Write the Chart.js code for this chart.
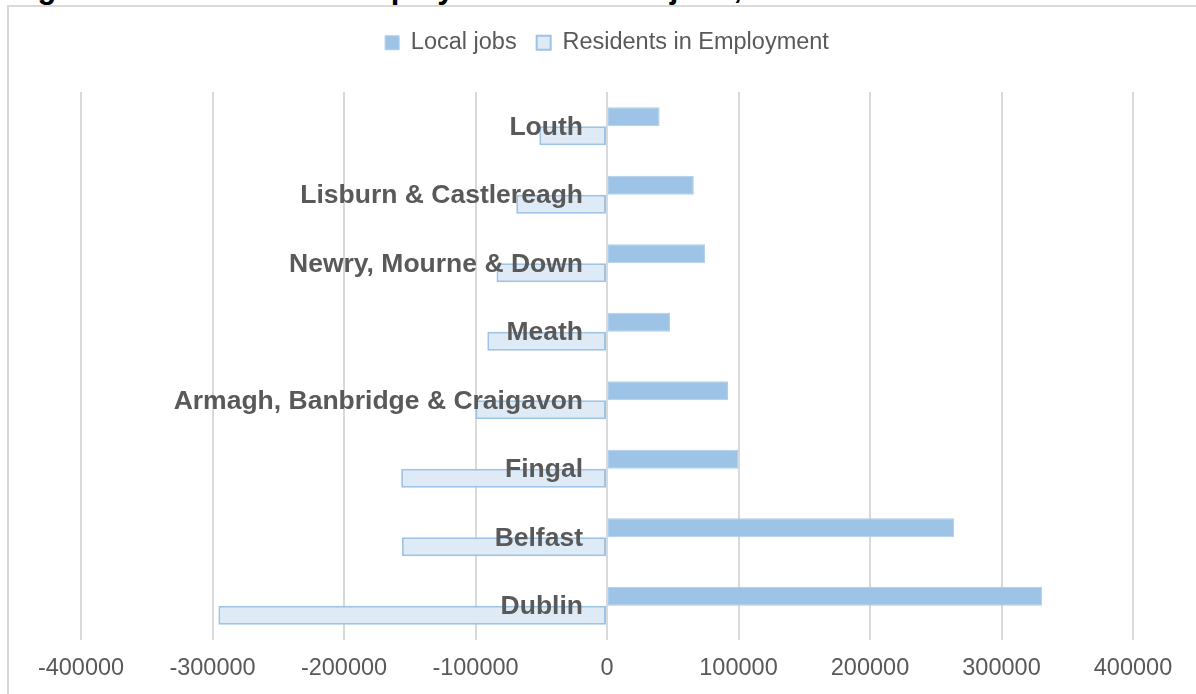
<!DOCTYPE html>
<html>
<head>
<meta charset="utf-8">
<script src="https://cdn.jsdelivr.net/npm/chart.js@4/dist/chart.umd.min.js"></script>
<style>
  html, body { margin: 0; padding: 0; background: #fff; }
  #wrap { position: relative; width: 1196px; height: 694px; overflow: hidden; }
  #frame { position: absolute; left: 7px; top: 5px; width: 1300px; height: 800px;
           border-left: 2px solid #D9D9D9; border-top: 2px solid #D9D9D9; box-sizing: border-box; }
  #title { position: absolute; left: 10px; top: -27px; font: bold 31px/30px "Liberation Sans", Arial, sans-serif;
           color: #000; white-space: nowrap; }
  canvas { position: absolute; left: 0; top: 0; }
</style>
</head>
<body>
<div id="wrap">
  <div id="frame"></div>
  <div id="title">Figure 4: Residents in Employment vs Local jobs, 2016</div>
  <canvas id="c" width="1196" height="694"></canvas>
</div>
<script>
const categories = ['Louth', 'Lisburn & Castlereagh', 'Newry, Mourne & Down', 'Meath',
                    'Armagh, Banbridge & Craigavon', 'Fingal', 'Belfast', 'Dublin'];
const localJobs = [40000, 66000, 74500, 48000, 92000, 99700, 264000, 331000];
const residentsInEmployment = [-51500, -69000, -84000, -91000, -100000, -156500, -156000, -295500];
const seriesNames = ['Local jobs', 'Residents in Employment'];
const xTicksMin = -400000, xTicksMax = 400000, xTickStep = 100000;

const FONT = '"Liberation Sans", Arial, sans-serif';

const legendSpacer = {
  id: 'legendSpacer',
  beforeInit(chart) {
    const fit = chart.legend.fit;
    chart.legend.fit = function () { fit.call(this); this.height = 81; };
  }
};

const centerLabels = {
  id: 'centerLabels',
  afterDatasetsDraw(chart) {
    const { ctx, scales: { x, y } } = chart;
    const x0 = x.getPixelForValue(0) - 24;
    ctx.save();
    ctx.font = 'bold 26.5px ' + FONT;
    ctx.fillStyle = '#595959';
    ctx.textAlign = 'right';
    ctx.textBaseline = 'middle';
    categories.forEach((c, i) => {
      ctx.fillText(c, x0, y.getPixelForValue(i) + 1);
    });
    ctx.restore();
  }
};

new Chart(document.getElementById('c'), {
  type: 'bar',
  data: {
    labels: categories,
    datasets: [
      { label: seriesNames[0], data: localJobs, backgroundColor: '#9DC3E6',
        borderColor: '#AECDEA', borderWidth: 1, borderSkipped: false,
        barPercentage: 1, categoryPercentage: 0.555 },
      { label: seriesNames[1], data: residentsInEmployment, backgroundColor: '#DEEBF7',
        borderColor: '#9DC3E6', borderWidth: 2, borderSkipped: false,
        barPercentage: 1, categoryPercentage: 0.555 }
    ]
  },
  options: {
    indexAxis: 'y',
    responsive: false,
    animation: false,
    layout: { padding: { left: 81, right: 63, top: 11, bottom: 0 } },
    plugins: {
      tooltip: { enabled: false },
      legend: {
        position: 'top',
        labels: { font: { family: FONT, size: 23.5 }, color: '#595959',
                  boxWidth: 14, boxHeight: 14, padding: 20 }
      }
    },
    scales: {
      x: {
        min: xTicksMin, max: xTicksMax,
        grid: { color: '#D9D9D9', lineWidth: 2, drawTicks: false, tickLength: 0 },
        border: { display: false },
        afterFit: s => { s.height = 54; },
        ticks: { stepSize: xTickStep, padding: 14, color: '#595959',
                 font: { family: FONT, size: 23.5 },
                 callback: v => String(v), maxRotation: 0, autoSkip: false }
      },
      y: { display: false, offset: true }
    }
  },
  plugins: [legendSpacer, centerLabels]
});
</script>
</body>
</html>
